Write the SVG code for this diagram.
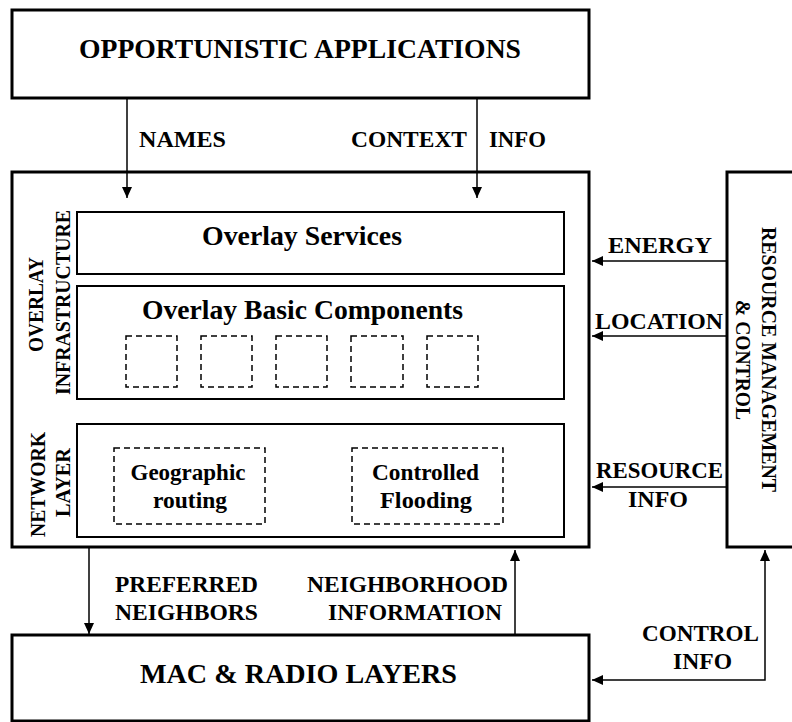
<svg xmlns="http://www.w3.org/2000/svg" width="792" height="722" viewBox="0 0 792 722">
<style>
.box{fill:#fff;stroke:#000;stroke-width:3}
.inner{fill:none;stroke:#000;stroke-width:2}
.dash{fill:none;stroke:#000;stroke-width:1.5;stroke-dasharray:6 4}
.conn{fill:none;stroke:#000;stroke-width:1.5}
.t{font-family:'Liberation Serif','DejaVu Serif','Times New Roman',serif;font-weight:bold;fill:#000}
.lbl{font-size:23.5px}
.big{font-size:27.5px}
.side{font-size:20px}
.rot{font-size:22px}
.mid{text-anchor:middle}
</style>
<defs>
<marker id="arr" markerUnits="userSpaceOnUse" markerWidth="11" markerHeight="10" refX="11" refY="5" orient="auto-start-reverse">
<path d="M0,0 L11,5 L0,10 z" fill="#000"/>
</marker>
</defs>
<g id="opportunistic-applications">
<rect class="box" x="12" y="10" width="577" height="88"/>
<text class="t mid" x="300" y="58" font-size="27" textLength="442" lengthAdjust="spacingAndGlyphs">OPPORTUNISTIC APPLICATIONS</text>
</g>
<g id="overlay-network-stack">
<rect class="box" x="12" y="172" width="577" height="375"/>
<text class="t side mid" transform="translate(43,304.5) rotate(-90)" textLength="95" lengthAdjust="spacingAndGlyphs">OVERLAY</text>
<text class="t side mid" transform="translate(70,302.5) rotate(-90)" textLength="185" lengthAdjust="spacingAndGlyphs">INFRASTRUCTURE</text>
<text class="t side mid" transform="translate(45,484.5) rotate(-90)" textLength="105" lengthAdjust="spacingAndGlyphs">NETWORK</text>
<text class="t side mid" transform="translate(70,482.5) rotate(-90)" textLength="69" lengthAdjust="spacingAndGlyphs">LAYER</text>
</g>
<g id="overlay-services">
<rect class="inner" x="77" y="212" width="487" height="62"/>
<text class="t big mid" x="302" y="245" textLength="200" lengthAdjust="spacingAndGlyphs">Overlay Services</text>
</g>
<g id="overlay-basic-components">
<rect class="inner" x="77" y="286" width="487" height="113"/>
<text class="t big mid" x="302.5" y="319" textLength="321" lengthAdjust="spacingAndGlyphs">Overlay Basic Components</text>
<rect class="dash" x="126" y="336" width="51" height="51"/>
<rect class="dash" x="201" y="336" width="51" height="51"/>
<rect class="dash" x="276" y="336" width="51" height="51"/>
<rect class="dash" x="351" y="336" width="52" height="51"/>
<rect class="dash" x="427" y="336" width="51" height="51"/>
</g>
<g id="network-layer">
<rect class="inner" x="77" y="424" width="487" height="113"/>
</g>
<g id="geographic-routing">
<rect class="dash" x="114" y="448" width="151" height="76"/>
<text class="t lbl mid" x="188" y="480" textLength="115" lengthAdjust="spacingAndGlyphs">Geographic</text>
<text class="t lbl mid" x="190" y="508" textLength="74" lengthAdjust="spacingAndGlyphs">routing</text>
</g>
<g id="controlled-flooding">
<rect class="dash" x="352" y="448" width="151" height="76"/>
<text class="t lbl mid" x="425.5" y="480" textLength="107" lengthAdjust="spacingAndGlyphs">Controlled</text>
<text class="t lbl mid" x="426" y="508" textLength="92" lengthAdjust="spacingAndGlyphs">Flooding</text>
</g>
<g id="resource-management">
<rect class="box" x="727" y="172" width="80" height="375"/>
<text class="t rot mid" transform="translate(762,359.5) rotate(90)" textLength="265" lengthAdjust="spacingAndGlyphs">RESOURCE MANAGEMENT</text>
<text class="t rot mid" transform="translate(736,360) rotate(90)" textLength="120" lengthAdjust="spacingAndGlyphs">&amp; CONTROL</text>
</g>
<g id="mac-radio-layers">
<rect class="box" x="12" y="635" width="577" height="86"/>
<text class="t mid" x="298.5" y="683" font-size="28" textLength="317" lengthAdjust="spacingAndGlyphs">MAC &amp; RADIO LAYERS</text>
</g>
<g id="connectors">
<line class="conn" x1="127" y1="98" x2="127" y2="198" marker-end="url(#arr)"/>
<line class="conn" x1="477" y1="98" x2="477" y2="198" marker-end="url(#arr)"/>
<line class="conn" x1="727" y1="261" x2="592" y2="261" marker-end="url(#arr)"/>
<line class="conn" x1="727" y1="336" x2="592" y2="336" marker-end="url(#arr)"/>
<line class="conn" x1="727" y1="487" x2="592" y2="487" marker-end="url(#arr)"/>
<line class="conn" x1="89" y1="548" x2="89" y2="634" marker-end="url(#arr)"/>
<line class="conn" x1="515" y1="635" x2="515" y2="550" marker-end="url(#arr)"/>
<path class="conn" d="M592,680 H765 V550" marker-start="url(#arr)" marker-end="url(#arr)"/>
<text class="t lbl" x="139" y="147" textLength="87" lengthAdjust="spacingAndGlyphs">NAMES</text>
<text class="t lbl" x="351" y="147" textLength="116" lengthAdjust="spacingAndGlyphs">CONTEXT</text>
<text class="t lbl" x="489" y="147" textLength="57" lengthAdjust="spacingAndGlyphs">INFO</text>
<text class="t lbl" x="608" y="253" textLength="104" lengthAdjust="spacingAndGlyphs">ENERGY</text>
<text class="t lbl" x="595" y="329" textLength="128" lengthAdjust="spacingAndGlyphs">LOCATION</text>
<text class="t lbl" x="596" y="478" textLength="127" lengthAdjust="spacingAndGlyphs">RESOURCE</text>
<text class="t lbl" x="628" y="507" textLength="60" lengthAdjust="spacingAndGlyphs">INFO</text>
<text class="t lbl" x="115" y="592" textLength="143" lengthAdjust="spacingAndGlyphs">PREFERRED</text>
<text class="t lbl" x="115" y="620" textLength="143" lengthAdjust="spacingAndGlyphs">NEIGHBORS</text>
<text class="t lbl mid" x="407.5" y="592" textLength="201" lengthAdjust="spacingAndGlyphs">NEIGHBORHOOD</text>
<text class="t lbl mid" x="415" y="620" textLength="174" lengthAdjust="spacingAndGlyphs">INFORMATION</text>
<text class="t lbl" x="642" y="641" textLength="117" lengthAdjust="spacingAndGlyphs">CONTROL</text>
<text class="t lbl" x="673" y="669" textLength="59" lengthAdjust="spacingAndGlyphs">INFO</text>
</g>
</svg>
